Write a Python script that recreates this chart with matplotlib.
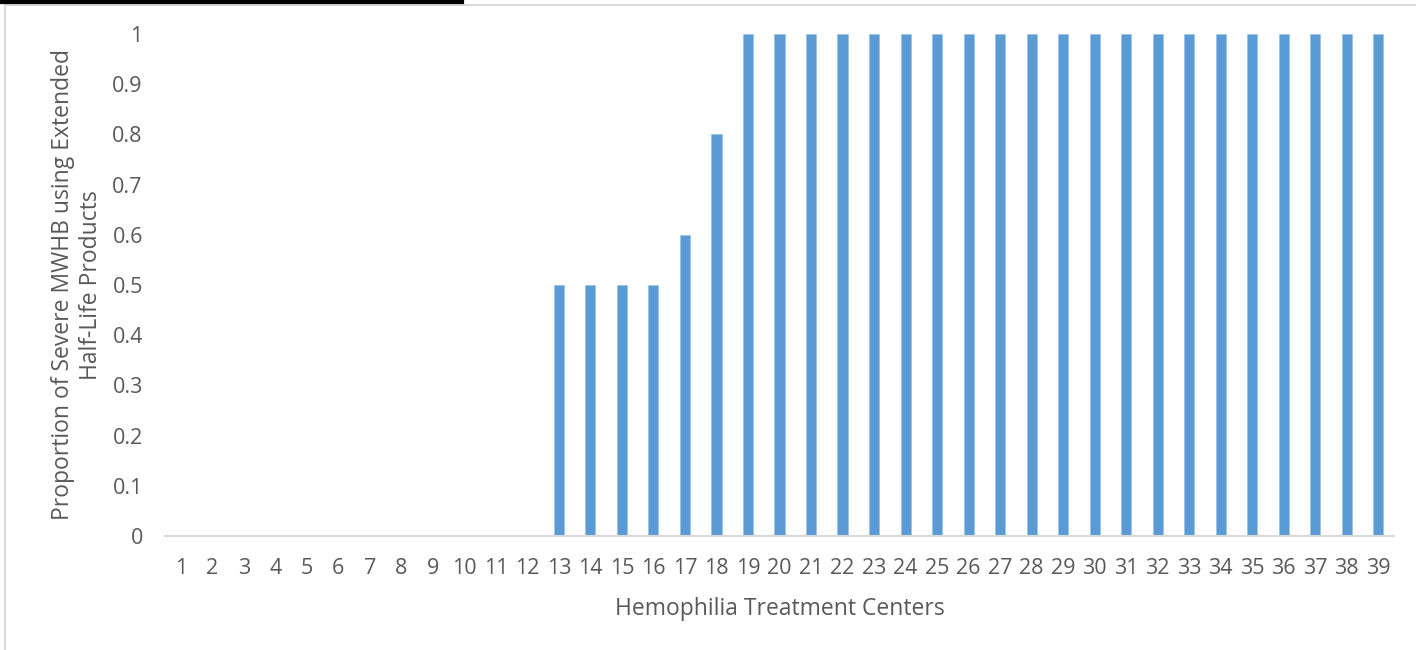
import matplotlib.pyplot as plt
from matplotlib.lines import Line2D
import numpy as np

centers = [str(i) for i in range(1, 40)]
proportions = [0, 0, 0, 0, 0, 0, 0, 0, 0, 0, 0, 0,
               0.5, 0.5, 0.5, 0.5, 0.6, 0.8,
               1, 1, 1, 1, 1, 1, 1, 1, 1, 1, 1, 1, 1, 1, 1, 1, 1, 1, 1, 1, 1]
yticks = [0, 0.1, 0.2, 0.3, 0.4, 0.5, 0.6, 0.7, 0.8, 0.9, 1]
ytick_labels = ["0", "0.1", "0.2", "0.3", "0.4", "0.5", "0.6", "0.7", "0.8", "0.9", "1"]

TEXT = "#595959"
plt.rcParams['font.family'] = ['Open Sans', 'DejaVu Sans']

W, H = 1416, 650
fig = plt.figure(figsize=(W / 100, H / 100), dpi=100)
ax = fig.add_axes([165 / W, (H - 536) / H, (1394 - 165) / W, (536 - 34) / H])

x = np.arange(len(centers))
ax.bar(x, proportions, width=0.32, color="#5B9BD5", edgecolor="#9DC3E6", linewidth=0.6)

ax.set_xlim(-0.5, len(centers) - 0.5)
ax.set_ylim(0, 1)
ax.set_xticks(x)
ax.set_xticklabels(centers)
ax.set_yticks(yticks)
ax.set_yticklabels(ytick_labels)
ax.tick_params(axis="both", length=0, labelsize=15.5, colors=TEXT)
ax.tick_params(axis="x", pad=16)
ax.tick_params(axis="y", pad=16)

for s in ["top", "right", "left"]:
    ax.spines[s].set_visible(False)
ax.spines["bottom"].set_color("#D9D9D9")
ax.spines["bottom"].set_linewidth(1.5)

ax.set_xlabel("Hemophilia Treatment Centers", fontsize=16.5, color=TEXT, labelpad=13)
ax.set_ylabel("Proportion of Severe MWHB using Extended\nHalf-Life Products",
              fontsize=16.5, color=TEXT, labelpad=7, linespacing=1.2)

# chart frame and cropped page rule at top
fig.add_artist(Line2D([5 / W, 5 / W], [0, 1 - 5 / H], color="#D9D9D9", lw=1.5))
fig.add_artist(Line2D([5 / W, 1], [1 - 5 / H, 1 - 5 / H], color="#D9D9D9", lw=1.5))
fig.add_artist(Line2D([0, 462 / W], [1 - 2 / H, 1 - 2 / H], color="black", lw=3))

fig.savefig("out.png", dpi=100)
